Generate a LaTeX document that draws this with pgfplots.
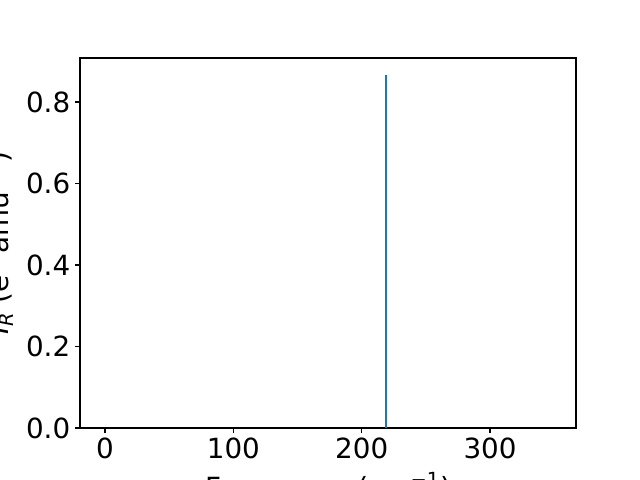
\documentclass[border=0pt]{standalone}
\usepackage{fontspec}
\setmainfont{DejaVu Sans}
\usepackage{pgfplots}
\pgfplotsset{compat=1.18}
\begin{document}
\begin{tikzpicture}
\path[use as bounding box] (-57.6pt,-37.44pt) rectangle ++(460.8pt,345.6pt);
\clip (-57.6pt,-37.44pt) rectangle ++(460.8pt,345.6pt);
\begin{axis}[
  at={(0,0)}, anchor=south west,
  scale only axis,
  width=357.12pt, height=266.4pt,
  xmin=-19.5, xmax=367, ymin=0, ymax=0.908,
  xtick={0,100,200,300},
  ytick={0,0.2,0.4,0.6,0.8},
  yticklabel style={/pgf/number format/fixed,/pgf/number format/fixed zerofill,/pgf/number format/precision=1},
  /pgf/number format/assume math mode=true,
  tick align=outside,
  major tick length=3.5pt,
  tick style={black, line width=0.8pt},
  axis line style={line width=0.8pt},
  xtick pos=bottom, ytick pos=left,
  font=\fontsize{20}{24}\selectfont,
  ticklabel style={font=\fontsize{20}{24}\selectfont},
  xlabel={Frequency (cm\textsuperscript{−1})},
  ylabel={{\itshape I}\textsubscript{\itshape R} (e\textsuperscript{2} amu\textsuperscript{−1})},
  xlabel style={at={(rel axis cs:0.5,0)}, anchor=north, inner sep=0pt, yshift=-32pt},
  ylabel style={at={(rel axis cs:0,0.5)}, anchor=south, inner sep=0pt, yshift=48pt},
]
\addplot[ycomb, color={rgb,255:red,31;green,119;blue,180}, line width=1.5pt, no marks] coordinates {(218.6,0.866)};
\end{axis}
\end{tikzpicture}
\end{document}
